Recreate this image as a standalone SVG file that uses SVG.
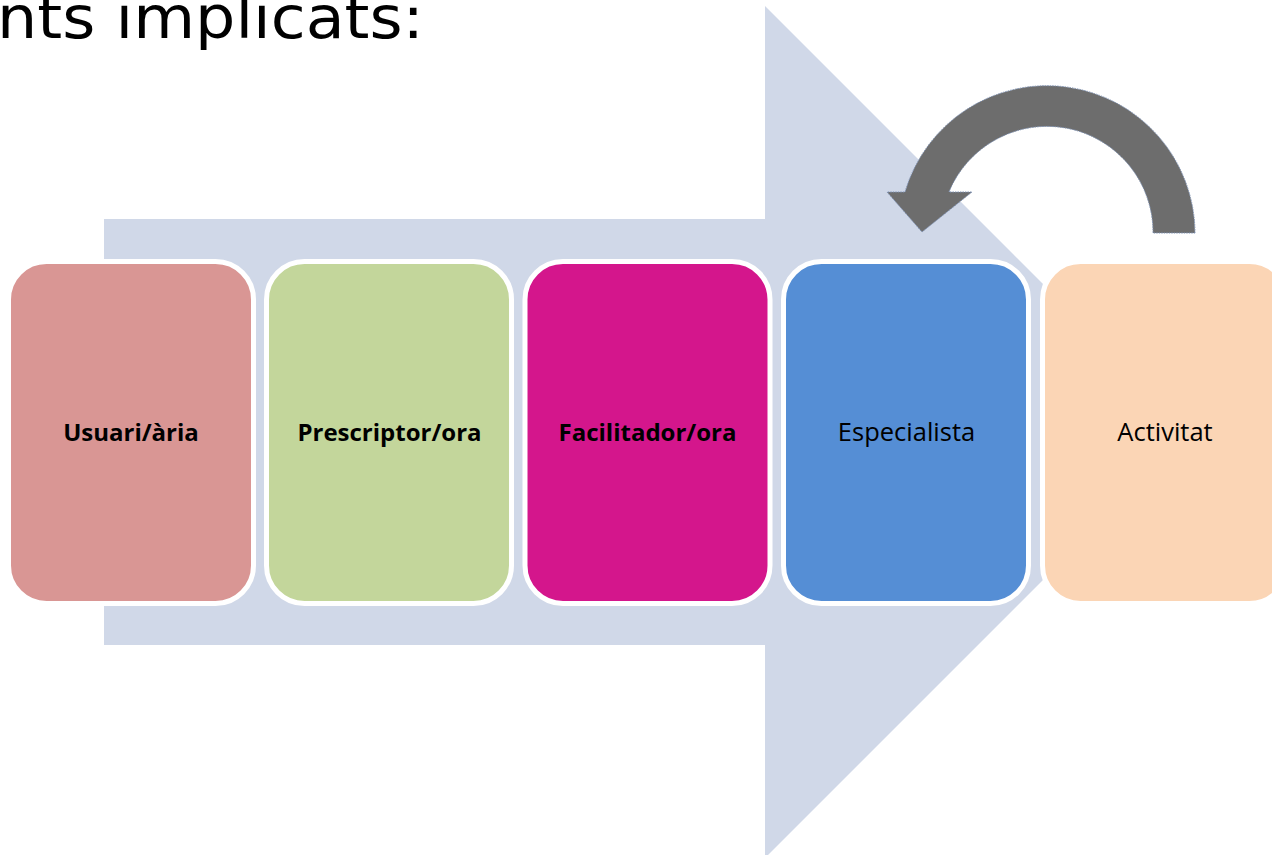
<svg xmlns="http://www.w3.org/2000/svg" width="1272" height="855" viewBox="0 0 1272 855">
<style>
.box{stroke:#FFFFFF;stroke-width:5}
.lbl{font-family:"Open Sans","Liberation Sans",sans-serif;font-size:24px;fill:#000000;text-anchor:middle}
.b{font-weight:bold}
.r{font-size:25.5px}
.title{font-family:"DejaVu Sans","Liberation Sans",sans-serif;font-size:58px;fill:#000000}
</style>
<rect width="1272" height="855" fill="#FFFFFF"/>
<text class="title" x="-3" y="38" textLength="427" lengthAdjust="spacingAndGlyphs">nts implicats:</text>
<g id="connectors">
<polygon id="big-arrow" points="104,219 765,219 765,6 1191,432 765,858 765,645 104,645" fill="#D0D8E8"/>
<path id="loop-arrow" d="M1195,233 A148,148 0 0 0 905,192 L887,192 L922,232 L972,192 L949,192 A106,106 0 0 1 1153,233 Z" fill="#6D6D6D" stroke="#7F93B5" stroke-width="1" stroke-dasharray="1.5 1"/>
</g>
<g id="node-usuari">
<rect class="box" x="8.5" y="261.5" width="245" height="342" rx="38" fill="#D99694"/>
<text class="lbl b" x="131" y="441">Usuari/ària</text>
</g>
<g id="node-prescriptor">
<rect class="box" x="266.5" y="261.5" width="245" height="342" rx="38" fill="#C3D69B"/>
<text class="lbl b" x="389.5" y="441">Prescriptor/ora</text>
</g>
<g id="node-facilitador">
<rect class="box" x="525" y="261.5" width="245" height="342" rx="38" fill="#D4168C"/>
<text class="lbl b" x="647.5" y="441">Facilitador/ora</text>
</g>
<g id="node-especialista">
<rect class="box" x="783.5" y="261.5" width="245" height="342" rx="38" fill="#558ED5"/>
<text class="lbl r" x="906.5" y="441">Especialista</text>
</g>
<g id="node-activitat">
<rect class="box" x="1042.5" y="261.5" width="245" height="342" rx="38" fill="#FBD5B5"/>
<text class="lbl r" x="1165" y="441">Activitat</text>
</g>
</svg>
